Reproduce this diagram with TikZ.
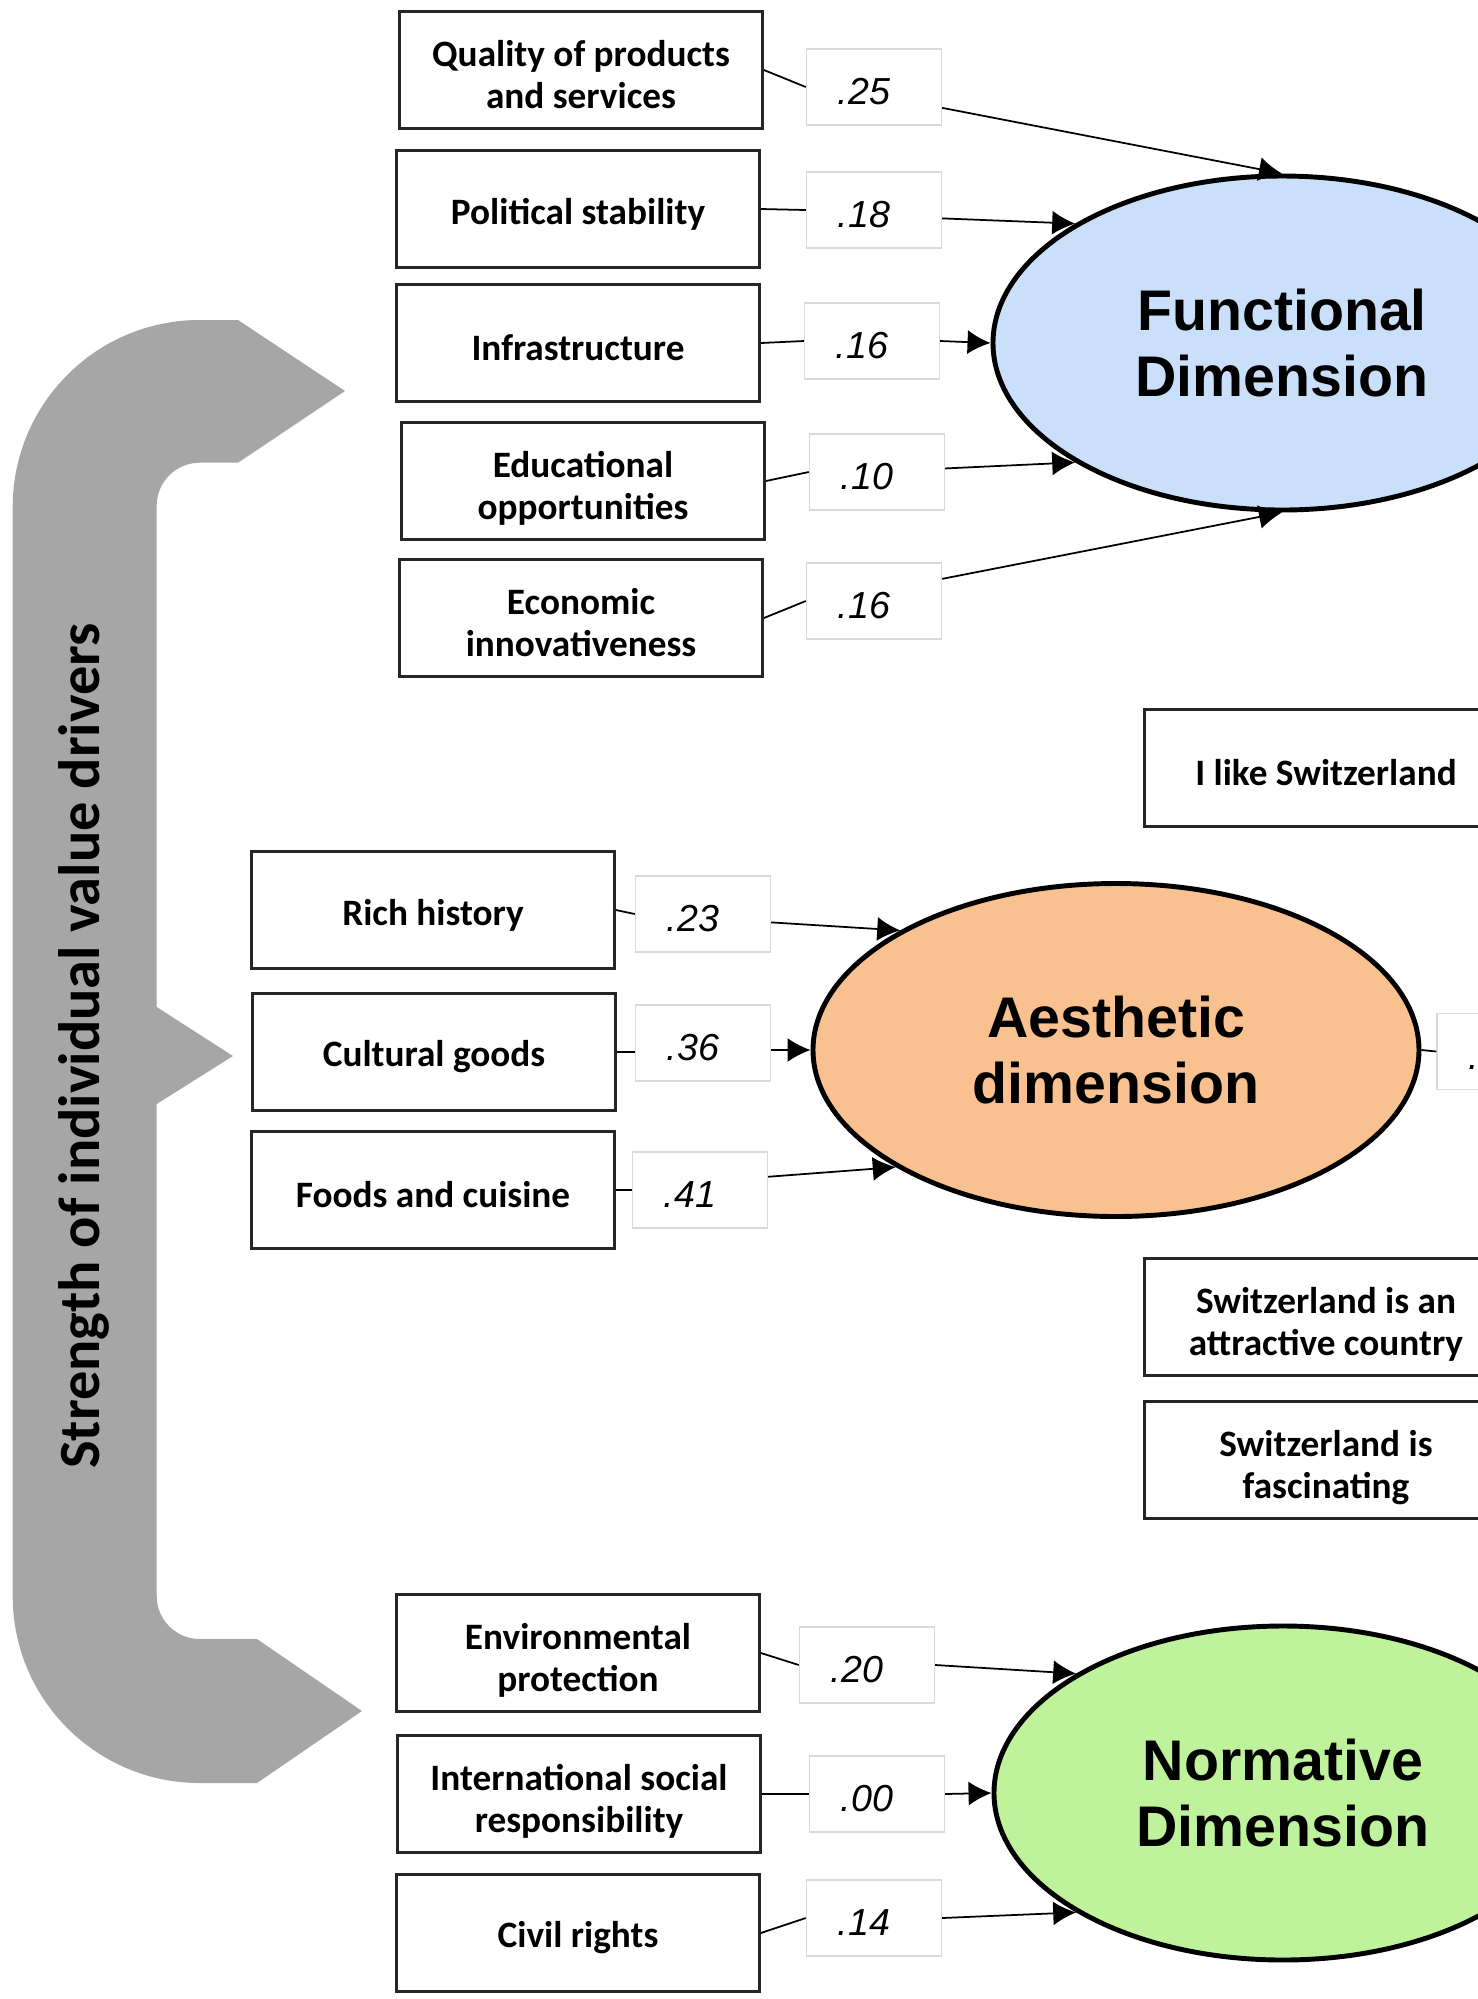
\documentclass[tikz,border=0pt]{standalone}
\usepackage{fontspec}
\setmainfont{Carlito}
\newfontfamily\dimfont{Liberation Sans}
\usepackage{xcolor}
\usepackage{tikz}
\usetikzlibrary{shapes.geometric, arrows.meta, positioning}
\definecolor{funblue}{HTML}{C9DFFA}
\definecolor{aespeach}{HTML}{F9C18F}
\definecolor{norgreen}{HTML}{BFF39B}
\definecolor{bracegray}{HTML}{A6A6A6}
\definecolor{wtframe}{HTML}{DADADA}
\newcommand{\wt}[1]{#1\kern0.2cm}

\begin{document}
\begin{tikzpicture}[%
  driver/.style={draw=black!85,line width=0.8pt,rectangle,minimum width=3.63cm,minimum height=1.17cm,align=center,font=\bfseries\fontsize{10.6}{11.8}\selectfont,text height=0.36cm},%
  twoline/.style={driver,text height=0.84cm,text depth=0.08cm},%
  weight/.style={draw=wtframe,line width=0.4pt,fill=white,rectangle,minimum width=1.35cm,minimum height=0.76cm,text height=0.35cm,text depth=0cm,font=\dimfont\itshape\fontsize{10.7}{12}\selectfont},%
  dimension/.style={draw=black,line width=1.4pt,ellipse,minimum width=5.78cm,minimum height=3.34cm,align=center,font=\dimfont\bfseries\fontsize{16.3}{18.9}\selectfont},%
  link/.style={black,line width=0.5pt},%
  load/.style={link,-{Latex[length=0.23cm,width=0.24cm]}}]%
\useasboundingbox (0,0) rectangle (14.78,-19.99);%
\clip (0,0) rectangle (14.78,-19.99);%
\fill[white] (0,0) rectangle (14.78,-19.99);%
% grey bracket
\fill[bracegray] (0.127,-5.07) arc[start angle=180,end angle=90,radius=1.87] -- (2.38,-3.20) -- (3.45,-3.91) -- (2.38,-4.627) -- (1.997,-4.627) arc[start angle=90,end angle=180,radius=0.43] -- (1.567,-10.07) -- (2.33,-10.56) -- (1.567,-11.04) -- (1.567,-15.96) arc[start angle=180,end angle=270,radius=0.43] -- (2.57,-16.39) -- (3.62,-17.11) -- (2.57,-17.83) -- (1.997,-17.83) arc[start angle=270,end angle=180,radius=1.87] -- cycle;%
\node[rotate=90,font=\bfseries\fontsize{16.6}{20}\selectfont] (axis) at (0.84,-10.46) {Strength of individual value drivers};%
% functional dimension
\node[dimension,fill=funblue] (fun) at (12.82,-3.43) {Functional\\Dimension};%
\node[twoline] (qual) at (5.81,-0.70) {Quality of products\\and services};%
\node[weight] (w25) at (8.74,-0.87) {\wt{.25}};%
\node[driver] (pol) at (5.78,-2.09) {Political stability};%
\node[weight] (w18) at (8.74,-2.10) {\wt{.18}};%
\node[driver] (infra) at (5.78,-3.43) {Infrastructure};%
\node[weight] (w16a) at (8.72,-3.41) {\wt{.16}};%
\node[twoline] (edu) at (5.83,-4.81) {Educational\\opportunities};%
\node[weight] (w10) at (8.77,-4.72) {\wt{.10}};%
\node[twoline] (econ) at (5.81,-6.18) {Economic\\innovativeness};%
\node[weight] (w16b) at (8.74,-6.01) {\wt{.16}};%
\draw[link] (qual.east) -- (w25.west);%
\draw[load] (w25.-17) -- (fun.north);%
\draw[link] (pol.east) -- (w18.west);%
\draw[load] (w18.-7) -- (fun.150);%
\draw[link] (infra.east) -- (w16a.west);%
\draw[load] (w16a.east) -- (fun.west);%
\draw[link] (edu.east) -- (w10.west);%
\draw[load] (w10.3) -- (fun.210);%
\draw[link] (econ.east) -- (w16b.west);%
\draw[load] (w16b.18) -- (fun.south);%
% outcome items
\node[driver] (like) at (13.26,-7.68) {I like Switzerland};%
\node[twoline] (attr) at (13.26,-13.17) {Switzerland is an\\attractive country};%
\node[twoline] (fasc) at (13.26,-14.60) {Switzerland is\\fascinating};%
% aesthetic dimension
\node[dimension,fill=aespeach,minimum width=6.06cm,minimum height=3.33cm] (aes) at (11.16,-10.50) {Aesthetic\\dimension};%
\node[driver] (hist) at (4.33,-9.10) {Rich history};%
\node[weight] (w23) at (7.03,-9.14) {\wt{.23}};%
\node[driver] (cult) at (4.34,-10.52) {Cultural goods};%
\node[weight] (w36) at (7.03,-10.43) {\wt{.36}};%
\node[driver] (food) at (4.33,-11.90) {Foods and cuisine};%
\node[weight] (w41) at (7.00,-11.90) {\wt{.41}};%
\node[weight] (wcut) at (15.045,-10.515) {\wt{\makebox[0.52cm][l]{.}}};%
\draw[link] (hist.east) -- (w23.west);%
\draw[load] (w23.-7) -- (aes.151);%
\draw[link] (cult.east) -- (w36.west |- cult.east);%
\draw[load] (w36.east |- aes.west) -- (aes.west);%
\draw[link] (food.east) -- (w41.west);%
\draw[load] (w41.11) -- (aes.208);%
\draw[link] (aes.east) -- (wcut.west);%
% normative dimension
\node[dimension,fill=norgreen] (nor) at (12.83,-17.93) {Normative\\Dimension};%
\node[twoline] (env) at (5.78,-16.53) {Environmental\\protection};%
\node[weight] (w20) at (8.67,-16.65) {\wt{.20}};%
\node[twoline] (isr) at (5.79,-17.94) {International social\\responsibility};%
\node[weight] (w00) at (8.77,-17.94) {\wt{.00}};%
\node[driver] (civ) at (5.78,-19.33) {Civil rights};%
\node[weight] (w14) at (8.74,-19.18) {\wt{.14}};%
\draw[link] (env.east) -- (w20.west);%
\draw[load] (w20.east) -- (nor.150);%
\draw[link] (isr.east) -- (w00.west);%
\draw[load] (w00.east) -- (nor.west);%
\draw[link] (civ.east) -- (w14.west);%
\draw[load] (w14.east) -- (nor.210);%
\end{tikzpicture}
\end{document}
